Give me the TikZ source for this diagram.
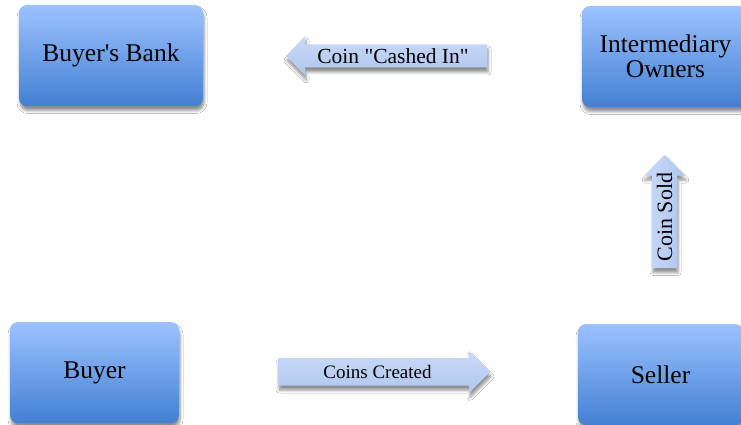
\documentclass[tikz,border=0pt]{standalone}
\usepackage{fontspec}
\setmainfont{Liberation Serif}[Ligatures=TeXOff]
\usetikzlibrary{shadows.blur}
\definecolor{boxtop}{HTML}{9CC2FF}
\definecolor{boxbot}{HTML}{4380D2}
\definecolor{arrtop}{HTML}{C9DAF8}
\definecolor{arrbot}{HTML}{B0C6EE}
\begin{document}
\begin{tikzpicture}[x=1pt,y=-1pt,
  softshadow/.style={blur shadow={shadow xshift=1pt, shadow yshift=-4.5pt, shadow blur radius=3pt, shadow opacity=45}},
  box/.style={rounded corners=8pt, top color=boxtop, bottom color=boxbot, draw=none, softshadow,
    font=\fontsize{25.5}{25}\selectfont, align=center, inner sep=0pt},
  harrow/.style={top color=arrtop, bottom color=arrbot, draw=none, softshadow},
  varrow/.style={left color=arrtop, right color=arrbot, draw=none, softshadow},
  lbl/.style={font=\fontsize{21.5}{21.5}\selectfont, inner sep=0pt}]
\useasboundingbox (0,0) rectangle (741,425);
\clip (0,0) rectangle (741,425);
\fill[white] (0,0) rectangle (741,425);

% boxes
\node[box, minimum width=184pt, minimum height=101pt] (bank) at (111,55.5) {Buyer's Bank};
\node[box, minimum width=167pt, minimum height=101pt] (inter) at (665.5,56.5) {Intermediary\\Owners};
\node[box, minimum width=169pt, minimum height=101pt] (buyer) at (94.5,372.5) {Buyer};
\node[box, minimum width=165pt, minimum height=101pt] (seller) at (660.5,374.5) {Seller};

% block arrow: Coin "Cashed In" (pointing left)
\coordinate (ct) at (286,56);
\path[harrow] (ct) -- (305,36) -- (305,44.5) -- (487,44.5) -- (487,67.5) -- (305,67.5) -- (305,75.5) -- cycle;
\node[lbl] (cashed) at (393,56) {Coin "Cashed In"};

% block arrow: Coins Created (pointing right)
\coordinate (cr) at (490,372);
\path[harrow] (278,358) -- (469,358) -- (469,351) -- (cr) -- (469,393) -- (469,385.5) -- (278,385.5) -- cycle;
\node[lbl, font=\fontsize{19}{19}\selectfont] (created) at (377.5,371.5) {Coins Created};

% block arrow: Coin Sold (pointing up)
\coordinate (cs) at (664.5,155);
\path[varrow] (cs) -- (685,175.5) -- (677,175.5) -- (677,268) -- (652,268) -- (652,175.5) -- (644,175.5) -- cycle;
\node[lbl, rotate=90, font=\fontsize{22}{22}\selectfont] (sold) at (664.5,217) {Coin Sold};
\end{tikzpicture}
\end{document}
